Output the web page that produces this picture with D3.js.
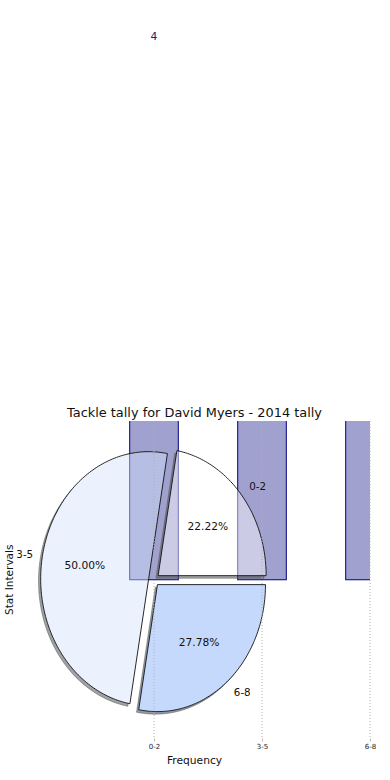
<!DOCTYPE html>
<html>
<head>
<meta charset="utf-8">
<script src="https://cdn.jsdelivr.net/npm/d3@7"></script>
<style>
  body { margin: 0; background: #fff; }
  svg { display: block; font-family: "DejaVu Sans", sans-serif; }
</style>
</head>
<body>
<div id="chart"></div>
<script>
// data
const categories = ["0-2", "3-5", "6-8"];
const tallies = [4, 9, 5];
const wedgeColors = ["#ffffff", "#d3e3fd", "#7fabfb"];
const explode = [0.05, 0.05, 0.05];

const W = 390, H = 780;
const axL = 19, axR = 370, axT = 421, axB = 738.5;

const svg = d3.select("#chart").append("svg")
  .attr("width", W)
  .attr("height", H);

const x = d3.scaleLinear().domain([-1.25, 2]).range([axL, axR]);
const y = d3.scaleLinear().domain([-1.25, 1.25]).range([axB, axT]);

svg.append("clipPath").attr("id", "ax-clip")
  .append("rect")
  .attr("x", axL).attr("y", axT)
  .attr("width", axR - axL).attr("height", axB - axT);

// Bars (clipped to the axes)
const barW = 0.45;
svg.append("g")
  .attr("clip-path", "url(#ax-clip)")
  .selectAll("rect")
  .data(tallies)
  .enter()
  .append("rect")
  .attr("x", (d, i) => x(i - barW / 2))
  .attr("y", d => y(d))
  .attr("width", x(barW) - x(0))
  .attr("height", d => y(0) - y(d))
  .attr("fill", "navy")
  .attr("fill-opacity", 0.37)
  .attr("stroke", "navy")
  .attr("stroke-width", 1);

// Bar value labels - the taller bars put theirs above the figure, so
// only the ones that land inside the page get drawn
const labelY = d => y(d + 0.25);
svg.append("g")
  .selectAll("text")
  .data(tallies.map((v, i) => ({ v, i })).filter(d => labelY(d.v) > 12))
  .enter()
  .append("text")
  .attr("x", d => x(d.i))
  .attr("y", d => labelY(d.v))
  .attr("text-anchor", "middle")
  .attr("fill", "#1c1c78")
  .style("font-size", "10.7px")
  .text(d => d.v);

// Pie, centred at (0,0) in data units, radius 1, counterclockwise from east
const arcs = d3.pie().sort(null).startAngle(0).endAngle(2 * Math.PI)(tallies);
const total = d3.sum(tallies);

function wedgePath(a, cx, cy) {
  const steps = Math.max(8, Math.ceil((a.endAngle - a.startAngle) / 0.02));
  let p = `M${x(cx)},${y(cy)}`;
  for (let k = 0; k <= steps; k++) {
    const t = a.startAngle + (a.endAngle - a.startAngle) * k / steps;
    p += `L${x(cx + Math.cos(t))},${y(cy + Math.sin(t))}`;
  }
  return p + "Z";
}

const wedges = arcs.map((a, i) => {
  const mid = (a.startAngle + a.endAngle) / 2;
  return {
    arc: a,
    i: i,
    mid: mid,
    cx: explode[i] * Math.cos(mid),
    cy: explode[i] * Math.sin(mid)
  };
});

// Shadow, only visible outside the wedges
const mask = svg.append("mask").attr("id", "shadow-mask");
mask.append("rect").attr("width", W).attr("height", H).attr("fill", "#fff");
mask.selectAll("path")
  .data(wedges)
  .enter()
  .append("path")
  .attr("d", w => wedgePath(w.arc, w.cx, w.cy))
  .attr("fill", "#000");

svg.append("g")
  .attr("mask", "url(#shadow-mask)")
  .selectAll("path")
  .data(wedges)
  .enter()
  .append("path")
  .attr("d", w => wedgePath(w.arc, w.cx - 0.02, w.cy - 0.02))
  .attr("fill", w => {
    const c = d3.rgb(wedgeColors[w.i]);
    return d3.rgb(c.r * 0.3, c.g * 0.3, c.b * 0.3);
  })
  .attr("fill-opacity", 0.5)
  .attr("stroke", "#555")
  .attr("stroke-opacity", 0.5)
  .attr("stroke-width", 1);

svg.append("g")
  .selectAll("path")
  .data(wedges)
  .enter()
  .append("path")
  .attr("d", w => wedgePath(w.arc, w.cx, w.cy))
  .attr("fill", w => wedgeColors[w.i])
  .attr("fill-opacity", 0.45)
  .attr("stroke", "#111")
  .attr("stroke-width", 0.9);

// Grid lines (drawn over the patches)
svg.append("g")
  .selectAll("line")
  .data(categories)
  .enter()
  .append("line")
  .attr("x1", (d, i) => x(i))
  .attr("x2", (d, i) => x(i))
  .attr("y1", axT)
  .attr("y2", axB)
  .attr("stroke", "#b0b0b0")
  .attr("stroke-width", 1)
  .attr("stroke-dasharray", "1,2");

// Pie labels
svg.append("g")
  .selectAll("text")
  .data(wedges)
  .enter()
  .append("text")
  .attr("x", w => x(w.cx + 1.1 * Math.cos(w.mid)) + (Math.cos(w.mid) > 0 ? 0 : 1.5))
  .attr("y", w => y(w.cy + 1.1 * Math.sin(w.mid)))
  .attr("text-anchor", w => Math.cos(w.mid) > 0 ? "start" : "end")
  .attr("dominant-baseline", "central")
  .attr("fill", "#111")
  .style("font-size", "10.3px")
  .text(w => categories[w.i]);

svg.append("g")
  .selectAll("text")
  .data(wedges)
  .enter()
  .append("text")
  .attr("x", w => x(w.cx + 0.6 * Math.cos(w.mid)))
  .attr("y", w => y(w.cy + 0.6 * Math.sin(w.mid)))
  .attr("text-anchor", "middle")
  .attr("dominant-baseline", "central")
  .attr("fill", "#111")
  .style("font-size", "10.7px")
  .text(w => (100 * w.arc.data / total).toFixed(2) + "%");

// x axis
const xAxis = svg.append("g")
  .attr("transform", `translate(0,${axB})`)
  .call(d3.axisBottom(x)
    .tickValues([0, 1, 2])
    .tickFormat(i => categories[i])
    .tickSize(3)
    .tickPadding(2.5));
xAxis.select(".domain").remove();
xAxis.selectAll(".tick line").attr("stroke", "#bbb");
xAxis.selectAll(".tick text")
  .attr("fill", "#222")
  .style("font-size", "7px")
  .style("font-family", "DejaVu Sans, sans-serif");

// Titles
svg.append("text")
  .attr("x", (axL + axR) / 2)
  .attr("y", 417)
  .attr("text-anchor", "middle")
  .attr("fill", "#111")
  .style("font-size", "12.9px")
  .text("Tackle tally for David Myers - 2014 tally");

svg.append("text")
  .attr("x", (axL + axR) / 2)
  .attr("y", 764)
  .attr("text-anchor", "middle")
  .attr("fill", "#111")
  .style("font-size", "10.7px")
  .text("Frequency");

svg.append("text")
  .attr("transform", `translate(8.5,${(axT + axB) / 2}) rotate(-90)`)
  .attr("text-anchor", "middle")
  .attr("dominant-baseline", "central")
  .attr("fill", "#111")
  .style("font-size", "10.5px")
  .text("Stat Intervals");
</script>
</body>
</html>
